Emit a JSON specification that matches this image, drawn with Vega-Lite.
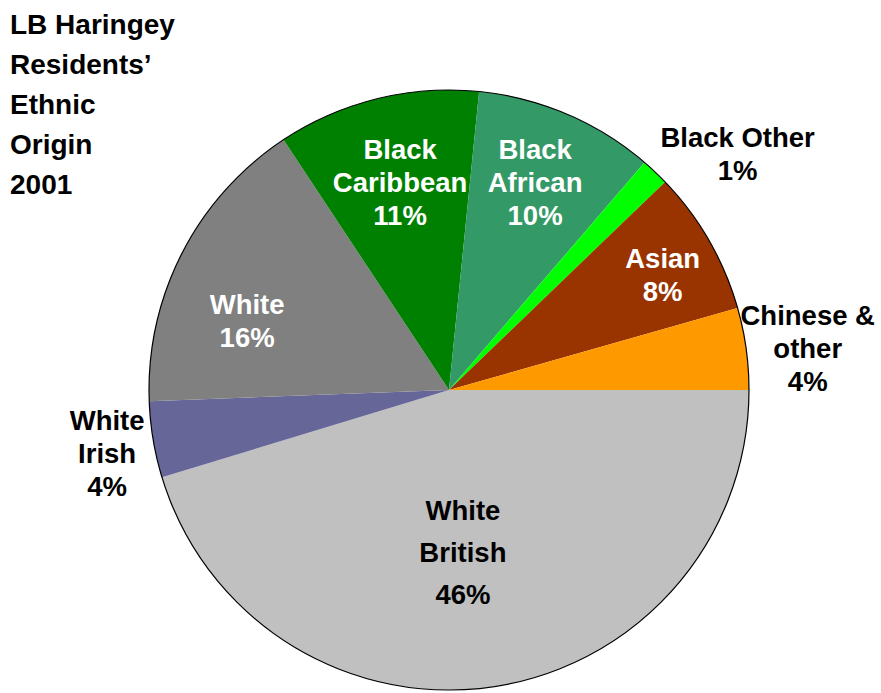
{
  "$schema": "https://vega.github.io/schema/vega-lite/v6.json",
  "width": 600,
  "height": 600,
  "autosize": {"type": "none"},
  "padding": {"left": 149, "top": 90, "right": 132, "bottom": 3},
  "background": "white",
  "title": {
    "text": ["LB Haringey", "Residents’", "Ethnic", "Origin", "2001"],
    "anchor": "start",
    "frame": "group",
    "orient": "top",
    "font": "Liberation Sans",
    "fontWeight": "bold",
    "fontSize": 28,
    "color": "black",
    "lineHeight": 40,
    "baseline": "top",
    "offset": 0,
    "dx": -139,
    "dy": 210
  },
  "data": {
    "values": [
      {"category": "White British", "value": 45.3, "label": "White\nBritish\n46%"},
      {"category": "White Irish", "value": 4.1, "label": "White\nIrish\n4%"},
      {"category": "White", "value": 16.3, "label": "White\n16%"},
      {"category": "Black Caribbean", "value": 10.9, "label": "Black\nCaribbean\n11%"},
      {"category": "Black African", "value": 9.7, "label": "Black\nAfrican\n10%"},
      {"category": "Black Other", "value": 1.5, "label": "Black Other\n1%"},
      {"category": "Asian", "value": 7.8, "label": "Asian\n8%"},
      {"category": "Chinese & other", "value": 4.4, "label": "Chinese &\nother\n4%"}
    ]
  },
  "transform": [{"window": [{"op": "row_number", "as": "idx"}]}],
  "config": {
    "view": {"stroke": null},
    "text": {"font": "Liberation Sans", "fontWeight": "bold", "fontSize": 27.5, "lineHeight": 33, "lineBreak": "\n", "align": "center", "baseline": "middle"}
  },
  "layer": [
    {
      "mark": {"type": "arc"},
      "encoding": {
        "theta": {"field": "value", "type": "quantitative", "stack": true, "scale": {"range": [1.5707963, 7.8539816]}},
        "order": {"field": "idx", "type": "quantitative"},
        "color": {
          "field": "category",
          "type": "nominal",
          "legend": null,
          "scale": {
            "domain": ["White British", "White Irish", "White", "Black Caribbean", "Black African", "Black Other", "Asian", "Chinese & other"],
            "range": ["#C0C0C0", "#666699", "#808080", "#008000", "#339966", "#00FF00", "#993300", "#FF9900"]
          }
        }
      }
    },
    {
      "transform": [{"aggregate": [{"op": "count", "as": "n"}]}],
      "mark": {"type": "arc", "filled": false, "stroke": "black", "strokeWidth": 1.2},
      "encoding": {}
    },
    {
      "mark": {"type": "text", "radius": 168.6, "thetaOffset": 0.065, "color": "black", "lineHeight": 42, "dy": -46},
      "encoding": {
        "theta": {"field": "value", "type": "quantitative", "stack": true},
        "order": {"field": "idx", "type": "quantitative"},
        "text": {"condition": {"test": "datum.category === 'White British'", "field": "label", "type": "nominal"}, "value": ""}
      }
    },
    {
      "mark": {"type": "text", "radius": 348, "thetaOffset": -0.021, "color": "black", "dy": -33},
      "encoding": {
        "theta": {"field": "value", "type": "quantitative", "stack": true},
        "order": {"field": "idx", "type": "quantitative"},
        "text": {"condition": {"test": "datum.category === 'White Irish'", "field": "label", "type": "nominal"}, "value": ""}
      }
    },
    {
      "mark": {"type": "text", "radius": 213, "thetaOffset": -0.15, "color": "white", "dy": -16.5},
      "encoding": {
        "theta": {"field": "value", "type": "quantitative", "stack": true},
        "order": {"field": "idx", "type": "quantitative"},
        "text": {"condition": {"test": "datum.category === 'White'", "field": "label", "type": "nominal"}, "value": ""}
      }
    },
    {
      "mark": {"type": "text", "radius": 212, "thetaOffset": 0.009, "color": "white", "dy": -33},
      "encoding": {
        "theta": {"field": "value", "type": "quantitative", "stack": true},
        "order": {"field": "idx", "type": "quantitative"},
        "text": {"condition": {"test": "datum.category === 'Black Caribbean'", "field": "label", "type": "nominal"}, "value": ""}
      }
    },
    {
      "mark": {"type": "text", "radius": 223, "thetaOffset": -0.009, "color": "white", "dy": -33},
      "encoding": {
        "theta": {"field": "value", "type": "quantitative", "stack": true},
        "order": {"field": "idx", "type": "quantitative"},
        "text": {"condition": {"test": "datum.category === 'Black African'", "field": "label", "type": "nominal"}, "value": ""}
      }
    },
    {
      "mark": {"type": "text", "radius": 372, "thetaOffset": 0.131, "color": "black", "dy": -16.5},
      "encoding": {
        "theta": {"field": "value", "type": "quantitative", "stack": true},
        "order": {"field": "idx", "type": "quantitative"},
        "text": {"condition": {"test": "datum.category === 'Black Other'", "field": "label", "type": "nominal"}, "value": ""}
      }
    },
    {
      "mark": {"type": "text", "radius": 242, "thetaOffset": 0.033, "color": "white", "dy": -16.5},
      "encoding": {
        "theta": {"field": "value", "type": "quantitative", "stack": true},
        "order": {"field": "idx", "type": "quantitative"},
        "text": {"condition": {"test": "datum.category === 'Asian'", "field": "label", "type": "nominal"}, "value": ""}
      }
    },
    {
      "mark": {"type": "text", "radius": 361, "thetaOffset": 0.026, "color": "black", "dy": -33},
      "encoding": {
        "theta": {"field": "value", "type": "quantitative", "stack": true},
        "order": {"field": "idx", "type": "quantitative"},
        "text": {"condition": {"test": "datum.category === 'Chinese & other'", "field": "label", "type": "nominal"}, "value": ""}
      }
    }
  ]
}
